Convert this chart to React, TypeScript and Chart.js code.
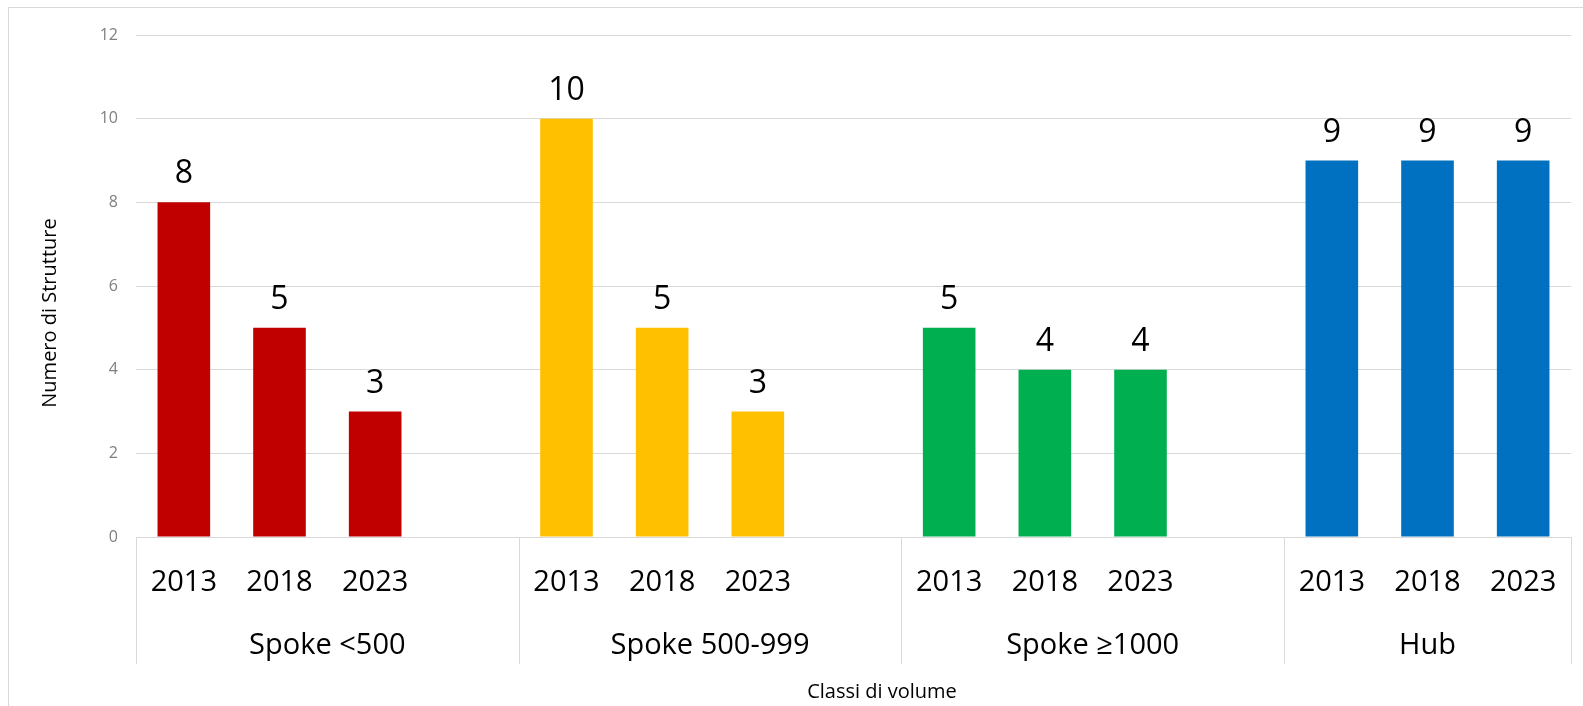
import React, { useEffect, useRef } from "react";
import { Chart, registerables } from "chart.js";

Chart.register(...registerables);

// ---- data ----
const groupLabels = ["Spoke <500", "Spoke 500-999", "Spoke \u22651000", "Hub"];
const yearLabels = ["2013", "2018", "2023"];
const spokeLt500 = [8, 5, 3];
const spoke500to999 = [10, 5, 3];
const spokeGe1000 = [5, 4, 4];
const hub = [9, 9, 9];
const groupColors = ["#C00000", "#FFC000", "#00B050", "#0070C0"];
const yTicks = { min: 0, max: 12, step: 2 };
const xTitle = "Classi di volume";
const yTitle = "Numero di Strutture";

const groupValues = [spokeLt500, spoke500to999, spokeGe1000, hub];

// Build the flat category list: 3 years per group, plus a blank spacer between groups
const categories: string[] = [];
const groupStart: number[] = [];
const groupSize: number[] = [];
groupLabels.forEach((_, gi) => {
  groupStart.push(categories.length);
  yearLabels.forEach((y) => categories.push(y));
  if (gi < groupLabels.length - 1) categories.push("");
  groupSize.push(categories.length - groupStart[gi]);
});

const datasets = groupLabels.map((g, gi) => {
  const data: (number | null)[] = categories.map(() => null);
  groupValues[gi].forEach((v, i) => {
    data[groupStart[gi] + i] = v;
  });
  return {
    label: g,
    data,
    backgroundColor: groupColors[gi],
    borderWidth: 0,
    grouped: false,
    barPercentage: 0.55,
    categoryPercentage: 1,
  };
});

const FONT = "'Open Sans', 'Noto Sans', sans-serif";
const LINE = "#d9d9d9";

const decorPlugin = {
  id: "decor",
  afterDatasetsDraw(chart: any) {
    const ctx = chart.ctx;
    ctx.save();
    ctx.fillStyle = "#000";
    ctx.font = `32px ${FONT}`;
    ctx.textAlign = "center";
    ctx.textBaseline = "alphabetic";
    chart.data.datasets.forEach((ds: any, di: number) => {
      const meta = chart.getDatasetMeta(di);
      meta.data.forEach((bar: any, i: number) => {
        const v = ds.data[i];
        if (v === null || v === undefined) return;
        ctx.fillText(String(v), bar.x, bar.y - 19);
      });
    });
    ctx.restore();
  },
  afterDraw(chart: any) {
    const ctx = chart.ctx;
    const xs = chart.scales.x;
    const area = chart.chartArea;
    const W = chart.width;
    const H = chart.height;
    const n = categories.length;
    const slot = (area.right - area.left) / n;
    ctx.save();
    // outer chart border (top & left)
    ctx.strokeStyle = LINE;
    ctx.lineWidth = 1;
    ctx.beginPath();
    ctx.moveTo(8.5, H);
    ctx.lineTo(8.5, 7.5);
    ctx.lineTo(W, 7.5);
    ctx.stroke();

    // group separators
    const bottom = Math.round(area.bottom) + 0.5;
    const sepEnd = 664;
    const bounds: number[] = groupStart.map((s) => area.left + s * slot);
    bounds.push(area.right);
    ctx.beginPath();
    bounds.forEach((b) => {
      const x = Math.round(b) + 0.5;
      ctx.moveTo(x, bottom);
      ctx.lineTo(x, sepEnd);
    });
    ctx.stroke();

    // category labels
    ctx.fillStyle = "#000";
    ctx.textAlign = "center";
    ctx.textBaseline = "alphabetic";
    ctx.font = `29px ${FONT}`;
    categories.forEach((c, i) => {
      if (!c) return;
      ctx.fillText(c, xs.getPixelForValue(i), 591);
    });
    // group labels
    groupLabels.forEach((g, gi) => {
      const x0 = area.left + groupStart[gi] * slot;
      const x1 = gi < groupLabels.length - 1 ? area.left + groupStart[gi + 1] * slot : area.right;
      ctx.fillText(g, (x0 + x1) / 2, 654);
    });

    // axis titles
    ctx.font = `20px ${FONT}`;
    ctx.fillText(xTitle, 882, 698);
    ctx.translate(50, 313);
    ctx.rotate(-Math.PI / 2);
    ctx.textBaseline = "middle";
    ctx.fillText(yTitle, 0, 0);
    ctx.restore();
  },
};

export default function App() {
  const ref = useRef<HTMLCanvasElement | null>(null);
  useEffect(() => {
    if (!ref.current) return;
    const chart = new Chart(ref.current, {
      type: "bar",
      data: { labels: categories, datasets: datasets as any },
      options: {
        animation: false,
        responsive: false,
        devicePixelRatio: 1,
        layout: { padding: { top: 35, left: 0, right: 12, bottom: 0 } },
        plugins: {
          legend: { display: false },
          tooltip: { enabled: false },
        },
        scales: {
          x: {
            grid: { display: false, drawTicks: false },
            border: { display: true, color: LINE, width: 1 },
            ticks: { display: false },
            afterFit: (s: any) => {
              s.height = 169;
            },
          },
          y: {
            min: yTicks.min,
            max: yTicks.max,
            grid: { color: LINE, lineWidth: 1, drawTicks: false },
            border: { display: false },
            ticks: {
              stepSize: yTicks.step,
              padding: 18,
              color: "#7f7f7f",
              font: { family: FONT, size: 16 },
            },
            afterFit: (s: any) => {
              s.width = 136;
            },
          },
        },
      },
      plugins: [decorPlugin],
    });
    return () => chart.destroy();
  }, []);
  return (
    <div style={{ position: "absolute", left: 0, top: 0, width: 1583, height: 706, background: "#fff" }}>
      <canvas ref={ref} width={1583} height={706} style={{ display: "block" }} />
    </div>
  );
}
